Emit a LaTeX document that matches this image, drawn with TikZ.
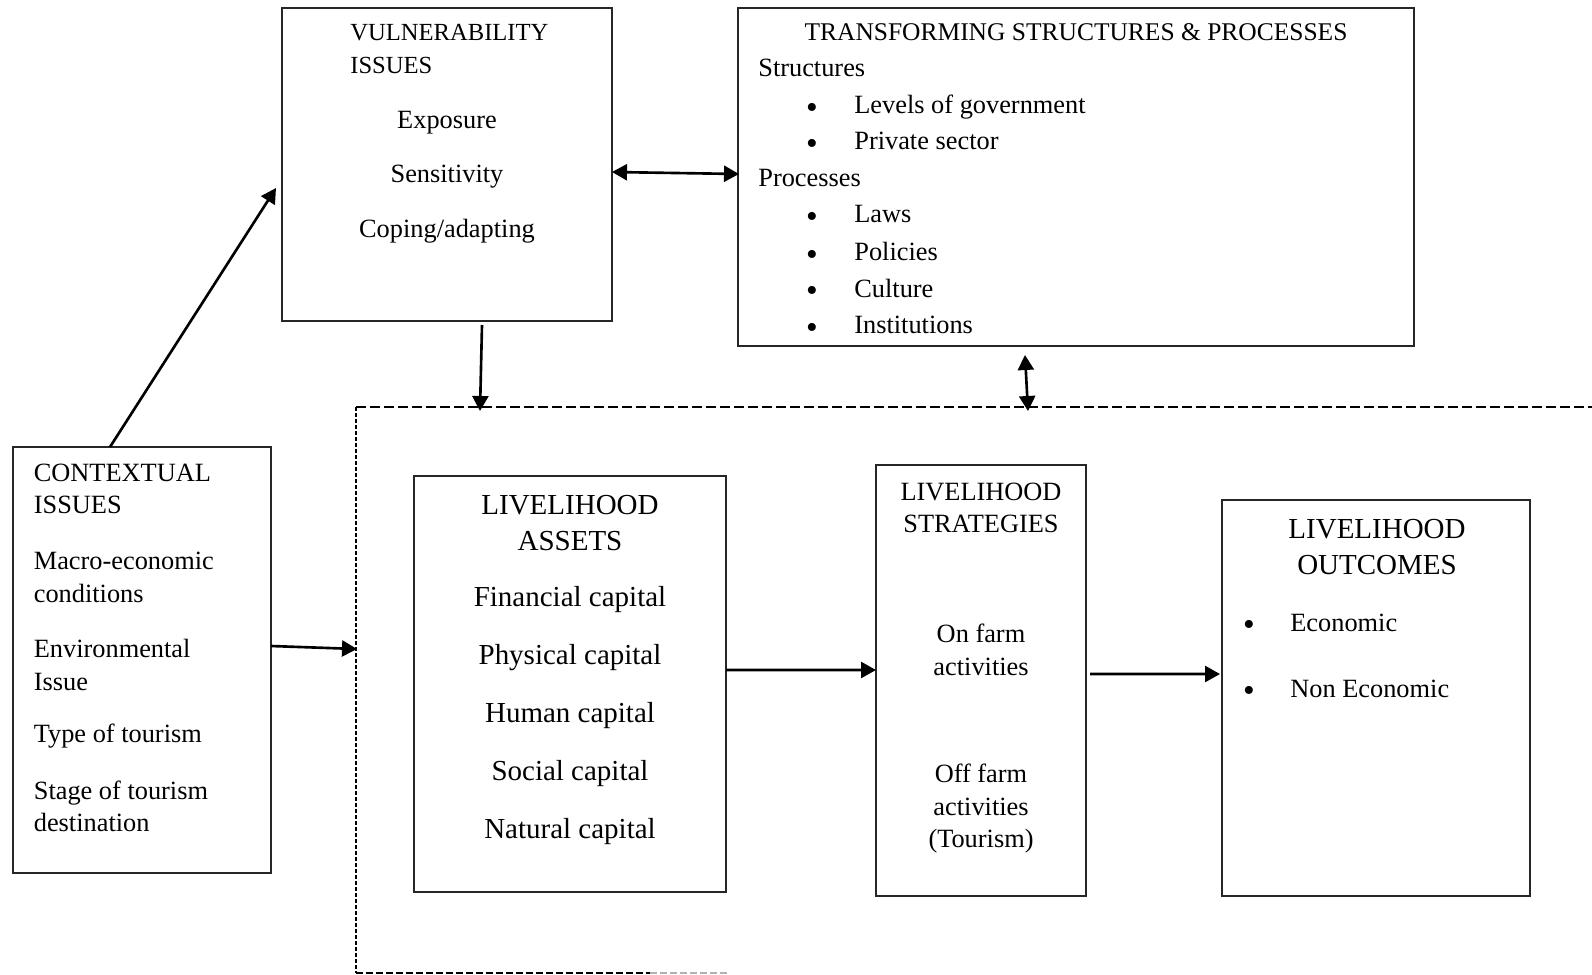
\documentclass[tikz,border=0pt]{standalone}
\usepackage{fontspec}
\setmainfont{Liberation Serif}
\usetikzlibrary{arrows.meta,calc}

\def\unitpx{0.02cm}

\begin{document}
\begin{tikzpicture}[x=0.02cm, y=-0.02cm, >={Triangle[length=0.3cm,width=0.32cm]}]
    \tikzstyle{box}=[draw=black!85, line width=0.8pt, inner sep=0pt, outer sep=0pt]
    \tikzstyle{txt}=[inner sep=0pt, align=left, anchor=west]
    \tikzstyle{ctr}=[inner sep=0pt, align=center]
    \tikzstyle{one}=[text height=1.1em, text depth=0.2em]
    \tikzstyle{bul}=[inner sep=0pt, yshift=-0.1cm, font=\fontsize{19}{19}\selectfont]
    \tikzstyle{link}=[->, line width=1.5pt]
    \tikzstyle{both}=[<->, line width=1.5pt]
    \tikzstyle{small}=[font=\fontsize{15}{18.5}\selectfont]
    \tikzstyle{big}=[font=\fontsize{16.5}{20.7}\selectfont]

    \useasboundingbox (0,0) rectangle (1592,974);

    % Draw the boxes
    \node[box, minimum width=330*\unitpx, minimum height=313*\unitpx] (vul) at (447,164.5) {};
    \node[box, minimum width=676*\unitpx, minimum height=338*\unitpx] (trans) at (1076,177) {};
    \node[box, minimum width=258*\unitpx, minimum height=426*\unitpx] (ctx) at (142,660) {};
    \node[box, minimum width=312*\unitpx, minimum height=416*\unitpx] (assets) at (570,684) {};
    \node[box, minimum width=210*\unitpx, minimum height=431*\unitpx] (strat) at (981,680.5) {};
    \node[box, minimum width=308*\unitpx, minimum height=396*\unitpx] (outc) at (1376,698) {};

    % The dashed frame round the livelihood part
    \coordinate (fr-nw) at (356,407);
    \coordinate (fr-ne) at (1592,407);
    \coordinate (fr-sw) at (356,973);
    \coordinate (fr-s) at (650,973);
    \coordinate (fr-se) at (727,973);
    \draw[line width=0.7pt, dash pattern=on 0.2cm off 0.08cm] (fr-nw) -- (fr-ne);
    \draw[line width=0.6pt, dash pattern=on 0.08cm off 0.04cm] (fr-nw) -- (fr-sw);
    \draw[line width=0.7pt, dash pattern=on 0.14cm off 0.06cm] (fr-sw) -- (fr-s);
    \draw[line width=0.7pt, black!30, dash pattern=on 0.14cm off 0.06cm] (fr-s) -- (fr-se);

    % Vulnerability issues
    \node[txt, font=\fontsize{14}{19}\selectfont] (vul-head) at (350,49) {VULNERABILITY\\ISSUES};
    \node[ctr, one, small] (vul-1) at (447,121) {Exposure};
    \node[ctr, one, small] (vul-2) at (447,175) {Sensitivity};
    \node[ctr, one, small] (vul-3) at (447,229.5) {Coping/adapting};

    % Transforming structures and processes
    \node[ctr, one, font=\fontsize{14.5}{18}\selectfont] (trans-head) at (1076,32.5) {TRANSFORMING STRUCTURES \& PROCESSES};
    \node[txt, one, small] (trans-s) at (758,69) {Structures};
    \node[txt, one, small] (trans-p) at (758,178.7) {Processes};
    \foreach \name / \y / \lbl in {gov/105.6/Levels of government, priv/142/Private sector,
            laws/215/Laws, pol/252.8/Policies, cult/289.4/Culture, inst/326/Institutions}
    {
        \node[bul] (b-\name) at (812,\y) {\textbullet};
        \node[txt, one, small] (t-\name) at (854,\y) {\lbl};
    }

    % Contextual issues
    \node[txt, small] (ctx-1) at (33.5,489) {CONTEXTUAL\\ISSUES};
    \node[txt, small] (ctx-2) at (33.5,577.5) {Macro-economic\\conditions};
    \node[txt, small] (ctx-3) at (33.5,665) {Environmental\\Issue};
    \node[txt, one, small] (ctx-4) at (33.5,735) {Type of tourism};
    \node[txt, small] (ctx-5) at (33.5,806.5) {Stage of tourism\\destination};

    % Livelihood assets
    \node[ctr, big] (assets-head) at (570,523) {LIVELIHOOD\\ASSETS};
    \foreach \name / \y / \lbl in {fin/599/Financial capital, phy/657/Physical capital,
            hum/715/Human capital, soc/772.6/Social capital, nat/830.5/Natural capital}
        \node[ctr, one, big] (a-\name) at (570,\y) {\lbl};

    % Livelihood strategies
    \node[ctr, small] (strat-head) at (981,508) {LIVELIHOOD\\STRATEGIES};
    \node[ctr, small] (strat-on) at (981,650) {On farm\\activities};
    \node[ctr, small] (strat-off) at (981,809) {Off farm\\activities\\(Tourism)};

    % Livelihood outcomes
    \node[ctr, big] (outc-head) at (1377,547) {LIVELIHOOD\\OUTCOMES};
    \node[bul] (b-eco) at (1249,623.4) {\textbullet};
    \node[txt, one, small] (t-eco) at (1290,623.4) {Economic};
    \node[bul] (b-non) at (1249,689.4) {\textbullet};
    \node[txt, one, small] (t-non) at (1290,689.4) {Non Economic};

    % Connect the boxes
    \coordinate (fr-a) at (480,411);
    \coordinate (fr-b) at (1028,411);
    \coordinate (fr-c) at (357,649);
    \draw[link] ($(ctx.north west)+(97,0)$) -- ($(vul.north west)+(-6,180)$);
    \draw[link] ($(vul.south west)+(200,4)$) -- (fr-a);
    \draw[both] ($(vul.north east)+(0,164)$) -- ($(trans.north west)+(1,166)$);
    \draw[both] ($(trans.south west)+(287,9)$) -- (fr-b);
    \draw[link] ($(ctx.south east)+(0,-227)$) -- (fr-c);
    \draw[link] ($(assets.south east)+(0,-222)$) -- ($(strat.south west)+(0,-226)$);
    \draw[link] ($(strat.south east)+(4,-222)$) -- ($(outc.south west)+(-2,-222)$);

\end{tikzpicture}
\end{document}
